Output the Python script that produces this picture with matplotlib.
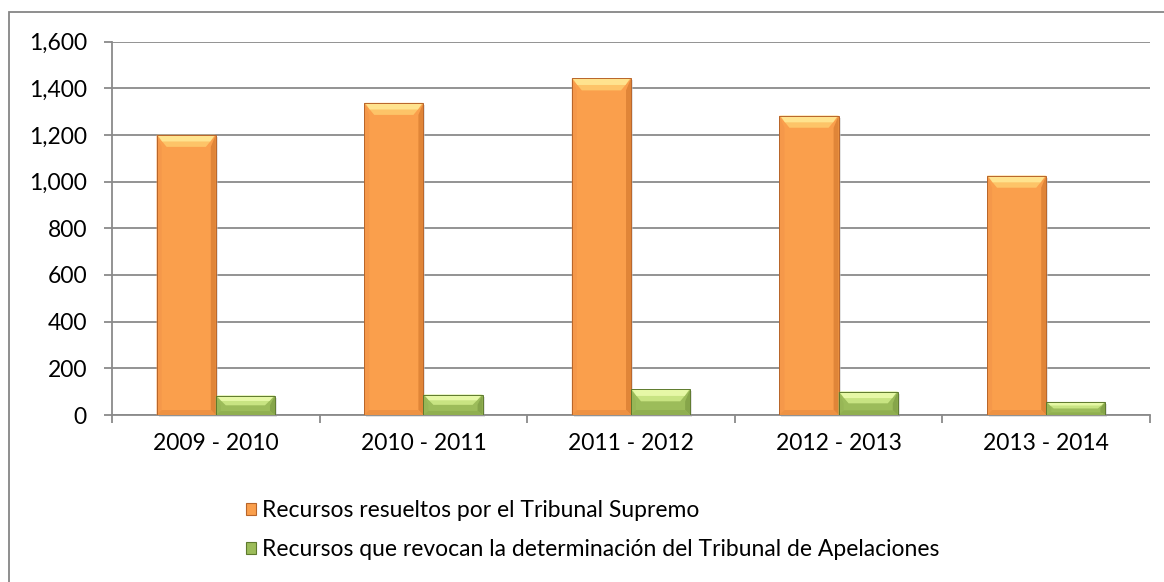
import matplotlib
matplotlib.use("Agg")
import matplotlib.pyplot as plt
from matplotlib.patches import Polygon, Rectangle, Patch
from matplotlib.ticker import FuncFormatter, FixedLocator
import numpy as np

plt.rcParams['font.family'] = ['Lato', 'DejaVu Sans']

categories = ["2009 - 2010", "2010 - 2011", "2011 - 2012", "2012 - 2013", "2013 - 2014"]
resueltos = [1200, 1337, 1442, 1282, 1025]
revocan = [83, 87, 110, 100, 56]
series_names = ["Recursos resueltos por el Tribunal Supremo",
                "Recursos que revocan la determinación del Tribunal de Apelaciones"]
yticks = [0, 200, 400, 600, 800, 1000, 1200, 1400, 1600]

W, H = 1164, 582
fig = plt.figure(figsize=(W / 100, H / 100), dpi=100)
fig.patch.set_facecolor("white")

# outer frame (right/bottom edges fall outside the picture)
fig.patches.append(Rectangle((9 / W, -0.02), 1.1, (H - 12) / H + 0.02, transform=fig.transFigure,
                             fill=False, edgecolor="#868686", linewidth=1.3, zorder=0))

ax = fig.add_axes([112 / W, (H - 415) / H, (1150 - 112) / W, (415 - 41.5) / H])
ax.set_xlim(-0.5, len(categories) - 0.5)
ax.set_ylim(0, 1600)

FS = 16.5
grid_c = "#8A8A8A"
for s in ["top", "right"]:
    ax.spines[s].set_visible(False)
for s in ["left", "bottom"]:
    ax.spines[s].set_color(grid_c)
    ax.spines[s].set_linewidth(1.3)
ax.yaxis.grid(True, color=grid_c, linewidth=1.3)
ax.set_axisbelow(True)

ax.set_yticks(yticks)
ax.yaxis.set_major_formatter(FuncFormatter(lambda v, p: f"{int(v):,}"))
ax.tick_params(axis="y", length=6, width=1.3, color=grid_c, pad=12, labelsize=FS, labelcolor="black")

x = np.arange(len(categories))
ax.set_xticks(x)
ax.set_xticklabels(categories)
ax.tick_params(axis="x", which="major", length=0, pad=13, labelsize=FS, labelcolor="black")
ax.xaxis.set_minor_locator(FixedLocator(np.arange(len(categories) + 1) - 0.5))
ax.tick_params(axis="x", which="minor", length=6, width=1.3, color=grid_c)

bw = 0.285
styles = [
    dict(face="#FA9F4C", top="#FFE38E", top2="#FDC468", side_l="#F5984A", side_r="#E08538", bottom="#EE9243", edge="#B8652A"),
    dict(face="#9CBC5A", top="#E6F8A6", top2="#C8E482", side_l="#97B656", side_r="#86A54A", bottom="#90AF50", edge="#5E7A2E"),
]

# pixel -> data conversion
px_x = (len(categories)) / (1150 - 112)
px_y = 1600 / (415 - 41.5)

def bevel(rect, st):
    x0, w, h = rect.get_x(), rect.get_width(), rect.get_height()
    y0 = rect.get_y()
    hp = h / px_y
    by = min(12, hp * 0.5) * px_y
    bx = min(10, hp * 0.5 / 1.2 + 2) * px_x
    bb = min(5, hp * 0.2) * px_y
    sx = 5 * px_x
    # shadow
    ax.add_patch(Rectangle((x0 + 2 * px_x, y0 - 2 * px_y), w, h, facecolor="#C8C8C8", alpha=0.5,
                           edgecolor="none", zorder=2, clip_on=False))
    # side strips
    ax.add_patch(Polygon([(x0, y0), (x0 + sx, y0 + bb), (x0 + sx, y0 + h - by), (x0, y0 + h)],
                         closed=True, facecolor=st["side_l"], edgecolor="none", zorder=3.1))
    ax.add_patch(Polygon([(x0 + w, y0), (x0 + w - sx, y0 + bb), (x0 + w - sx, y0 + h - by), (x0 + w, y0 + h)],
                         closed=True, facecolor=st["side_r"], edgecolor="none", zorder=3.1))
    # bottom
    ax.add_patch(Polygon([(x0, y0), (x0 + w, y0), (x0 + w - sx, y0 + bb), (x0 + sx, y0 + bb)],
                         closed=True, facecolor=st["bottom"], edgecolor="none", zorder=3.1))
    # top bevel
    ax.add_patch(Polygon([(x0, y0 + h), (x0 + w, y0 + h), (x0 + w - bx, y0 + h - by), (x0 + bx, y0 + h - by)],
                         closed=True, facecolor=st["top2"], edgecolor="none", zorder=3.2))
    ax.add_patch(Polygon([(x0 + 1 * px_x, y0 + h), (x0 + w - 1 * px_x, y0 + h),
                          (x0 + w - bx * 0.55, y0 + h - by * 0.55), (x0 + bx * 0.55, y0 + h - by * 0.55)],
                         closed=True, facecolor=st["top"], edgecolor="none", zorder=3.3))
    ax.add_patch(Rectangle((x0, y0), w, h, fill=False, edgecolor=st["edge"], linewidth=0.7, zorder=3.4))

for i, (vals, st) in enumerate(zip([resueltos, revocan], styles)):
    offs = (i - 0.5) * bw
    bars = ax.bar(x + offs, vals, width=bw, color=st["face"], edgecolor="none", zorder=3)
    for r in bars.patches:
        bevel(r, st)

handles = [Patch(facecolor=styles[0]["face"], edgecolor=styles[0]["edge"], linewidth=0.8),
           Patch(facecolor=styles[1]["face"], edgecolor=styles[1]["edge"], linewidth=0.8)]
fig.legend(handles=handles, labels=series_names, loc="upper left",
           bbox_to_anchor=(246 / W, 1 - 500 / H), frameon=False, fontsize=FS,
           handlelength=0.45, handleheight=0.45, handletextpad=0.25, labelspacing=0.8,
           borderpad=0, borderaxespad=0)

fig.savefig("out.png", dpi=100, facecolor="white")
